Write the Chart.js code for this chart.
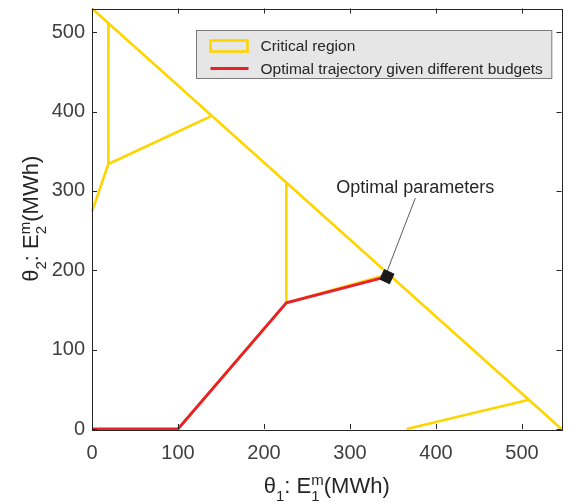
<!DOCTYPE html>
<html>
<head>
<meta charset="utf-8">
<script src="https://cdn.jsdelivr.net/npm/chart.js@4.4.1/dist/chart.umd.min.js"></script>
<style>
  html, body { margin: 0; padding: 0; background: #fff; }
</style>
</head>
<body>
<canvas id="mycanvas" width="570" height="503"></canvas>
<script>
// axis limits and tick values (MWh)
var xMax = 546, yMax = 530;
var xTicks = [0, 100, 200, 300, 400, 500];
var yTicks = [0, 100, 200, 300, 400, 500];

// critical region edges, one polyline per edge
var regionX = [
  [0, 546],
  [19, 19],
  [0, 19, 138],
  [226, 226],
  [100, 226, 345],
  [366, 508]
];
var regionY = [
  [530, 0],
  [512, 334],
  [274, 334, 394],
  [311, 159],
  [0, 159, 195],
  [0, 37]
];

// optimal trajectory for increasing budget
var trajX = [0, 100, 226, 343];
var trajY = [0, 0, 159, 192];

// optimal parameters
var optX = [343];
var optY = [192];

// callout text position and line start
var noteText = "Optimal parameters";
var noteX = 376, noteY = 304, noteLineY = 291;

var FONT = "'Liberation Sans', Arial, Helvetica, sans-serif";
var YELLOW = "#FFD500";
var RED = "#E8202A";
var INK = "#262626";

function pts(xs, ys) {
  var out = [];
  for (var i = 0; i < xs.length; i++) out.push({x: xs[i], y: ys[i]});
  return out;
}

var datasets = [];
for (var i = 0; i < regionX.length; i++) {
  datasets.push({
    label: "Critical region",
    data: pts(regionX[i], regionY[i]),
    showLine: true,
    borderColor: YELLOW,
    borderWidth: 2.6,
    pointRadius: 0,
    clip: false,
    order: 3
  });
}
datasets.push({
  label: "Optimal trajectory given different budgets",
  data: pts(trajX, trajY),
  showLine: true,
  borderColor: RED,
  borderWidth: 2.8,
  pointRadius: 0,
  clip: false,
  order: 2
});
datasets.push({
  label: "Optimal parameters",
  data: pts(optX, optY),
  showLine: false,
  pointStyle: "rect",
  rotation: 25,
  pointRadius: 7.5,
  backgroundColor: "#1a1a1a",
  borderColor: "#1a1a1a",
  borderWidth: 1,
  order: 1
});

// text with subscripts / superscripts, parts like {t:'E'}, {sub:'1'}, {sup:'m', sub:'1'}
var MAIN = "22px " + FONT, SMALL = "15px " + FONT;
function richWidth(ctx, parts) {
  var w = 0;
  parts.forEach(function(p) {
    if (p.t) { ctx.font = MAIN; w += ctx.measureText(p.t).width; }
    else {
      ctx.font = SMALL;
      w += Math.max(p.sup ? ctx.measureText(p.sup).width : 0, p.sub ? ctx.measureText(p.sub).width : 0);
    }
  });
  return w;
}
function drawRich(ctx, parts, cx, baseY) {
  var x = cx - richWidth(ctx, parts) / 2;
  ctx.textAlign = "left";
  ctx.textBaseline = "alphabetic";
  parts.forEach(function(p) {
    if (p.t) {
      ctx.font = MAIN;
      ctx.fillText(p.t, x, baseY);
      x += ctx.measureText(p.t).width;
    } else {
      ctx.font = SMALL;
      var w = 0;
      if (p.sup) { ctx.fillText(p.sup, x, baseY - 8); w = ctx.measureText(p.sup).width; }
      if (p.sub) { ctx.fillText(p.sub, x, baseY + 8); w = Math.max(w, ctx.measureText(p.sub).width); }
      x += w;
    }
  });
}

var decorations = {
  id: "decorations",
  afterDraw: function(chart) {
    var ctx = chart.ctx, a = chart.chartArea;
    var xs = chart.scales.x, ys = chart.scales.y;
    ctx.save();

    // box with inward ticks on all sides
    ctx.strokeStyle = INK;
    ctx.lineWidth = 1;
    ctx.strokeRect(Math.round(a.left) + 0.5, Math.round(a.top) + 0.5,
                   Math.round(a.right - a.left), Math.round(a.bottom - a.top));
    ctx.beginPath();
    xTicks.forEach(function(v) {
      var px = Math.round(xs.getPixelForValue(v)) + 0.5;
      ctx.moveTo(px, a.bottom); ctx.lineTo(px, a.bottom - 5);
      ctx.moveTo(px, a.top); ctx.lineTo(px, a.top + 5);
    });
    yTicks.forEach(function(v) {
      var py = Math.round(ys.getPixelForValue(v)) + 0.5;
      ctx.moveTo(a.left, py); ctx.lineTo(a.left + 5, py);
      ctx.moveTo(a.right, py); ctx.lineTo(a.right - 5, py);
    });
    ctx.stroke();

    // callout to the optimal point
    var mx = xs.getPixelForValue(optX[0]), my = ys.getPixelForValue(optY[0]);
    var tx = xs.getPixelForValue(noteX), ty = ys.getPixelForValue(noteY);
    ctx.strokeStyle = "#333";
    ctx.lineWidth = 0.8;
    ctx.beginPath();
    ctx.moveTo(tx, ys.getPixelForValue(noteLineY));
    ctx.lineTo(mx, my - 5);
    ctx.stroke();
    ctx.fillStyle = INK;
    ctx.font = "18px " + FONT;
    ctx.textAlign = "center";
    ctx.textBaseline = "middle";
    ctx.fillText(noteText, tx, ty);

    // axis titles
    ctx.fillStyle = INK;
    drawRich(ctx, [{t: "\u03b8"}, {sub: "1"}, {t: ": E"}, {sup: "m", sub: "1"}, {t: "(MWh)"}],
             (a.left + a.right) / 2, 493);
    ctx.save();
    ctx.translate(38, (a.top + a.bottom) / 2);
    ctx.rotate(-Math.PI / 2);
    drawRich(ctx, [{t: "\u03b8"}, {sub: "2"}, {t: ": E"}, {sup: "m", sub: "2"}, {t: "(MWh)"}], 0, 0);
    ctx.restore();

    // legend
    var items = [datasets[0], datasets[regionX.length]];
    var LEG = "15.5px " + FONT;
    ctx.font = LEG;
    var tw = 0;
    items.forEach(function(d) { tw = Math.max(tw, ctx.measureText(d.label).width); });
    var bw = 14 + 38 + 12 + tw + 9, bh = 48;
    var bx = Math.round(a.right - 10 - bw) + 0.5, by = Math.round(a.top + 21) + 0.5;
    ctx.fillStyle = "#e6e6e6";
    ctx.fillRect(bx, by, bw, bh);
    ctx.strokeStyle = "#7a7a7a";
    ctx.lineWidth = 1;
    ctx.strokeRect(bx, by, bw, bh);
    items.forEach(function(d, k) {
      var cy = by + 15.5 + k * 22.5;
      var ix = bx + 14;
      ctx.strokeStyle = d.borderColor;
      ctx.lineWidth = d.borderWidth;
      if (k === 0) {
        ctx.strokeRect(ix, cy - 5.5, 37, 11);
      } else {
        ctx.beginPath(); ctx.moveTo(ix, cy); ctx.lineTo(ix + 38, cy); ctx.stroke();
      }
      ctx.fillStyle = INK;
      ctx.font = LEG;
      ctx.textAlign = "left";
      ctx.textBaseline = "middle";
      ctx.fillText(d.label, ix + 38 + 12, cy + 1);
    });

    ctx.restore();
  }
};

var chart = new Chart(document.getElementById("mycanvas"), {
  type: "scatter",
  data: { datasets: datasets },
  options: {
    responsive: false,
    animation: false,
    devicePixelRatio: 1,
    layout: { padding: { top: 7, right: 8, left: 0, bottom: 0 } },
    plugins: { legend: { display: false }, tooltip: { enabled: false } },
    scales: {
      x: {
        type: "linear",
        min: 0,
        max: xMax,
        afterBuildTicks: function(s) { s.ticks = xTicks.map(function(v) { return {value: v}; }); },
        afterFit: function(s) { s.height = 74; s.paddingLeft = 0; s.paddingRight = 0; },
        grid: { display: false, drawTicks: false },
        border: { display: false },
        ticks: { color: "#404040", font: { size: 20, family: FONT }, padding: 12, maxRotation: 0 }
      },
      y: {
        type: "linear",
        min: 0,
        max: yMax,
        afterBuildTicks: function(s) { s.ticks = yTicks.map(function(v) { return {value: v}; }); },
        afterFit: function(s) { s.width = 92; s.paddingTop = 0; s.paddingBottom = 0; },
        grid: { display: false, drawTicks: false },
        border: { display: false },
        ticks: { color: "#404040", font: { size: 20, family: FONT }, padding: 7 }
      }
    }
  },
  plugins: [decorations]
});
</script>
</body>
</html>
